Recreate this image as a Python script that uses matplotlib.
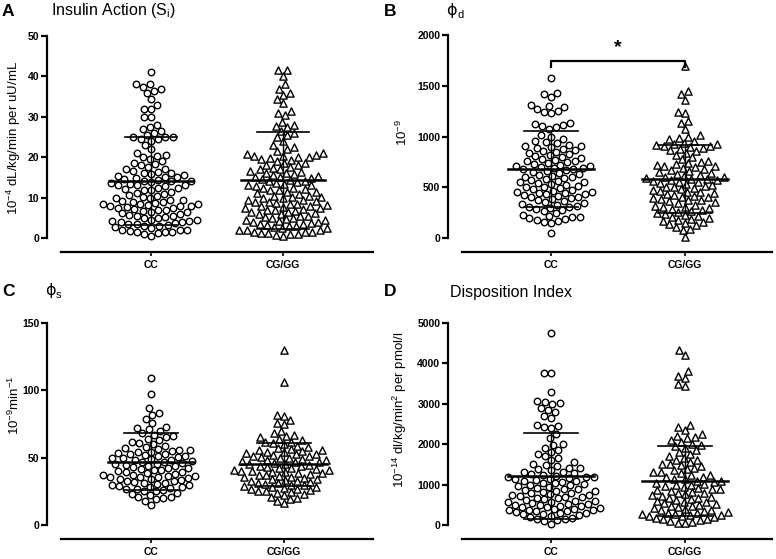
import numpy as np
import matplotlib
matplotlib.use("Agg")
import matplotlib.pyplot as plt

plt.rcParams['font.family'] = ['Liberation Sans', 'DejaVu Sans']
plt.rcParams['mathtext.fontset'] = 'custom'
plt.rcParams['mathtext.rm'] = 'Liberation Sans'
plt.rcParams['mathtext.it'] = 'Liberation Sans:italic'
plt.rcParams['mathtext.bf'] = 'Liberation Sans:bold'

# ── data ──────────────────────────────────────────────────────
groups = ["CC", "CG/GG"]

si_cc = [41, 38.2, 38, 37.5, 37, 36.5, 36, 34.5, 33, 32, 32, 30, 30, 28, 27.5, 27, 26.5, 26,
         25.5, 25, 25, 25, 24.5, 24.5, 24, 23, 22, 21, 20.5, 20, 20.3, 19.5, 19, 18.5, 18,
         18.2, 17.5, 17, 17.2, 16.5, 16.4, 16, 16.1, 15.8, 15.5, 15.4, 15, 15.1, 14.8, 14.5,
         14.4, 14, 14.1, 13.9, 14, 13.5, 13.4, 13, 13.1, 12.9, 13, 12.5, 12.4, 12, 12.1, 11.9,
         11.5, 11, 11.1, 10.5, 10.6, 10, 10.1, 9.9, 9.5, 9.4, 9, 9.1, 8.9, 8.5, 8.4, 8.6, 8,
         8.1, 7.9, 8, 8.3, 7.5, 7.4, 7.7, 7, 7.1, 6.9, 6.5, 6.4, 6.7, 6, 6.1, 5.5, 5.6, 5.4,
         5, 5.1, 4.9, 4.5, 4.4, 4, 4.1, 3.9, 4.2, 3.5, 3.6, 3.4, 3, 3.1, 2.9, 2.5, 2.6, 2,
         2.1, 1.9, 1.5, 1.6, 1.4, 1.7, 1.2, 0.9, 0.4]
si_cg = [41.7, 41.5, 40.2, 38, 37, 36, 35.5, 34.5, 33.5, 31.5, 31, 30.5, 28.8, 28, 27.8,
         27.5, 26.5, 26, 25.5, 25, 24, 23, 22.5, 22, 21.5, 21, 20.8, 20.5, 20.4, 20.2, 20,
         20.1, 19.8, 19.5, 19.4, 19, 18.5, 18.6, 18, 18.1, 17.5, 17.4, 17, 17.1, 16.5, 16.4,
         16, 16.1, 15.9, 15.5, 15.4, 15, 15.1, 14.9, 14.5, 14.4, 14, 14.1, 13.9, 13.5, 13.4,
         13, 13.1, 12.9, 12.5, 12.4, 12, 12.1, 11.9, 11.5, 11.4, 11, 11.1, 10.5, 10.4, 10,
         10.1, 9.9, 10.2, 9.5, 9.4, 9, 9.1, 8.9, 8.5, 8.4, 8.7, 8, 8.1, 7.9, 7.5, 7.4, 7.7, 7,
         7.1, 6.9, 6.5, 6.4, 6.7, 6, 6.1, 5.9, 5.5, 5.4, 5, 5.1, 4.9, 4.5, 4.4, 4.6, 4, 4.1,
         3.9, 3.5, 3.4, 3.6, 3, 3.1, 2.9, 2.5, 2.6, 2.4, 2, 2.1, 1.9, 1.5, 1.6, 1.4, 1.2, 1.3,
         1, 0.9, 0.8, 0.6]

phid_cc = [1580, 1430, 1420, 1390, 1310, 1300, 1290, 1270, 1250, 1240, 1230, 1130, 1120,
           1110, 1100, 1090, 1070, 1010, 1000, 980, 960, 950, 940, 920, 910, 900, 905, 890,
           880, 870, 860, 850, 840, 830, 820, 810, 800, 790, 780, 770, 760, 750, 755, 740,
           730, 720, 710, 700, 705, 690, 680, 685, 670, 675, 660, 650, 640, 630, 620, 610,
           600, 605, 590, 580, 570, 560, 550, 555, 540, 530, 520, 510, 500, 505, 490, 480,
           470, 460, 450, 455, 440, 445, 430, 435, 420, 410, 400, 405, 390, 380, 370, 360,
           350, 340, 330, 335, 320, 310, 300, 305, 290, 280, 270, 250, 230, 220, 210, 200,
           205, 190, 180, 170, 160, 150, 50]
phid_cg = [1690, 1450, 1420, 1360, 1240, 1235, 1150, 1130, 1070, 1010, 1000, 990, 980, 960,
           940, 930, 920, 925, 910, 900, 905, 890, 880, 870, 860, 840, 820, 800, 780, 760,
           750, 740, 730, 720, 710, 700, 705, 690, 680, 670, 660, 650, 640, 630, 620, 610,
           600, 605, 590, 580, 585, 570, 575, 560, 550, 555, 540, 530, 520, 510, 500, 505,
           490, 480, 470, 460, 450, 455, 440, 430, 420, 410, 400, 405, 390, 380, 370, 375,
           360, 350, 340, 330, 320, 310, 300, 305, 290, 280, 270, 260, 250, 240, 230, 220,
           210, 200, 190, 180, 170, 160, 150, 140, 130, 110, 90, 80, 10]

phis_cc = [109, 97, 87, 83, 82, 79, 76, 73, 72, 71, 70, 68, 67, 66, 65, 64, 63, 62, 61, 60,
           59, 58, 57, 56, 56.5, 55, 55.5, 54, 54.5, 53, 53.5, 52, 52.5, 51, 51.5, 50, 50.5,
           49, 49.5, 48, 48.5, 47, 47.5, 46, 46.5, 45, 45.5, 44, 44.5, 43, 43.5, 42, 42.5,
           41, 41.5, 40, 40.5, 39, 39.5, 38, 38.5, 37, 37.5, 36, 36.3, 36.6, 35, 35.3,
           35.6, 34, 34.5, 33, 33.5, 32, 32.5, 31, 31.5, 30, 30.5, 29, 29.5, 28, 28.5, 27,
           27.5, 26, 26.5, 25, 25.5, 24, 23, 22, 21, 20, 20.5, 19, 18, 15]
phis_cg = [130, 106, 82, 81, 78, 76, 75, 70, 68, 67, 66, 65, 64, 63, 62, 61, 61.5, 60, 59,
           58, 57, 56, 56.5, 55, 55.5, 54, 54.5, 53, 53.5, 52, 52.5, 51, 51.5, 50, 50.5,
           49, 49.5, 48, 48.5, 47, 47.5, 46, 46.5, 45, 45.5, 44, 44.5, 43, 43.5, 42, 42.5,
           41, 41.5, 40, 40.3, 40.6, 39, 39.5, 38, 38.3, 38.6, 37, 37.5, 36, 36.5,
           35, 35.5, 34, 34.5, 33, 33.5, 32, 32.5, 31, 31.5, 30, 30.5, 29, 29.5,
           28, 28.5, 27, 27.5, 26, 26.5, 25, 25.5, 24, 24.5, 23, 22, 21, 20, 19, 18, 16]

di_cc = [4750, 3770, 3760, 3300, 3060, 3050, 3020, 3000, 2900, 2850, 2800, 2700, 2650, 2480,
         2450, 2430, 2400, 2260, 2150, 2000, 1980, 1900, 1850, 1800, 1750, 1700, 1650, 1600,
         1550, 1500, 1480, 1450, 1420, 1400, 1380, 1350, 1320, 1300, 1280, 1260, 1240, 1220,
         1200, 1190, 1180, 1160, 1150, 1130, 1120, 1100, 1080, 1060, 1050, 1030, 1010, 1000,
         980, 960, 940, 920, 900, 880, 870, 850, 830, 820, 800, 780, 760, 750, 740, 720, 700,
         690, 680, 660, 640, 620, 600, 590, 580, 560, 540, 530, 520, 500, 505, 480, 460, 450,
         440, 420, 400, 390, 380, 370, 360, 350, 340, 320, 300, 290, 280, 260, 240,
         220, 200, 180, 160, 140, 120, 100, 20]
di_cg = [4320, 4200, 3820, 3700, 3650, 3500, 3450, 2480, 2420, 2350, 2250, 2200, 2180, 2150,
         2100, 2050, 2000, 1980, 1950, 1900, 1850, 1800, 1750, 1700, 1650, 1620, 1600, 1550,
         1520, 1500, 1480, 1450, 1400, 1380, 1350, 1320, 1300, 1280, 1250, 1230, 1200, 1180,
         1150, 1130, 1100, 1080, 1060, 1040, 1020, 1000, 980, 960, 940, 920, 900, 880, 860,
         840, 820, 800, 780, 760, 740, 720, 700, 680, 660, 640, 620, 600, 580, 560, 540, 520,
         500, 480, 460, 440, 420, 400, 380, 360, 340, 320, 300, 290, 280, 260, 250, 240, 230,
         220, 200, 180, 160, 140, 120, 100, 80, 60, 50]

# mean and SD per panel, [CC, CG/GG]
si_mean, si_sd = [14.0, 14.3], [10.9, 12.0]
phid_mean, phid_sd = [680, 581], [378, 334]
phis_mean, phis_sd = [47.0, 45.2], [21.2, 16.0]
di_mean, di_sd = [1220, 1097], [1065, 866]

W, H = 776, 559
fig = plt.figure(figsize=(W / 100, H / 100), dpi=100)


def make_ax(left, right, top, bottom, y0, ytop, ymax, xcc, xcg, xline, yticks):
    ax = fig.add_axes([left / W, 1 - bottom / H, (right - left) / W, (bottom - top) / H])
    ppu = (y0 - ytop) / ymax
    ax.set_ylim(-(bottom - y0) / ppu, ymax + (ytop - top) / ppu)
    ppx = xcg - xcc
    ax.set_xlim((left - xcc) / ppx, (right - xcc) / ppx)
    for s in ("top", "right"):
        ax.spines[s].set_visible(False)
    ax.spines["left"].set_linewidth(1.6)
    ax.spines["bottom"].set_linewidth(1.6)
    ax.spines["left"].set_bounds(0, ymax)
    ax.spines["bottom"].set_bounds((xline - xcc) / ppx, (right - xcc) / ppx)
    ax.set_yticks(yticks)
    ax.set_yticklabels([str(t) for t in yticks], fontweight="bold", fontsize=7.5)
    ax.set_xticks([0, 1])
    ax.set_xticklabels(groups, fontweight="bold", fontsize=7.5)
    ax.tick_params(axis="y", length=4, width=1.6, pad=1.5)
    ax.tick_params(axis="x", length=3, width=1.2, pad=3)
    return ax


def swarm(ax, x0, vals, d=7.4):
    # beeswarm in pixel space; d is the spacing used for collisions
    vals = np.asarray(vals, dtype=float)
    pts = ax.transData.transform(np.column_stack([np.full(len(vals), x0), vals]))
    xc, ys = pts[0, 0], pts[:, 1]
    xs = np.zeros(len(vals))
    placed = []
    for i in np.argsort(ys):
        y = ys[i]
        near = [(px, py) for px, py in placed if abs(py - y) < d]
        cands = [0.0]
        for px, py in near:
            off = np.sqrt(d * d - (py - y) ** 2)
            cands += [px + off, px - off]
        cands.sort(key=lambda c: (round(abs(c), 3), c))
        for c in cands:
            if all((c - px) ** 2 + (y - py) ** 2 >= d * d - 1e-6 for px, py in near):
                xs[i] = c
                break
        placed.append((xs[i], y))
    disp = np.column_stack([xc + xs, ys])
    return ax.transData.inverted().transform(disp)[:, 0]


def draw_group(ax, x0, vals, marker, mean, sd):
    xs = swarm(ax, x0, vals)
    ax.scatter(xs, vals, s=22 if marker == "o" else 27, marker=marker, facecolor="white",
               edgecolor="black", linewidth=1.0, zorder=3, clip_on=False)
    ax.plot([x0 - 0.32, x0 + 0.32], [mean, mean], color="black", lw=1.8, zorder=4)
    ax.plot([x0 - 0.2, x0 + 0.2], [mean + sd, mean + sd], color="black", lw=1.2, zorder=4)
    ax.plot([x0 - 0.2, x0 + 0.2], [mean - sd, mean - sd], color="black", lw=1.2, zorder=4)
    ax.plot([x0, x0], [mean - sd, mean + sd], color="black", lw=1.0, zorder=4)


panels = [
    (make_ax(47, 373, 36, 252, 238, 36, 50, 151, 283, 61, [0, 10, 20, 30, 40, 50]),
     si_cc, si_cg, si_mean, si_sd),
    (make_ax(448, 772, 35, 252, 238, 35, 2000, 551, 685, 462, [0, 500, 1000, 1500, 2000]),
     phid_cc, phid_cg, phid_mean, phid_sd),
    (make_ax(47, 373, 323, 539, 525, 323, 150, 151, 284, 61, [0, 50, 100, 150]),
     phis_cc, phis_cg, phis_mean, phis_sd),
    (make_ax(448, 772, 323, 539, 525, 323, 5000, 551, 685, 462,
             [0, 1000, 2000, 3000, 4000, 5000]),
     di_cc, di_cg, di_mean, di_sd),
]

for ax, cc, cg, mean, sd in panels:
    draw_group(ax, 0, cc, "o", mean[0], sd[0])
    draw_group(ax, 1, cg, "^", mean[1], sd[1])

# significance bracket in panel B
axb = panels[1][0]
axb.plot([0, 0, 1, 1], [1685, 1745, 1745, 1685], color="black", lw=1.6, zorder=5)
axb.text(0.5, 1790, "*", ha="center", va="bottom", fontsize=14, fontweight="bold")


def ftext(x, y, s, **kw):
    fig.text(x / W, 1 - y / H, s, **kw)


# panel letters and titles
for x, y, s in [(2, 12, "A"), (384, 12, "B"), (2, 292, "C"), (384, 292, "D")]:
    ftext(x, y, s, fontsize=12.5, fontweight="bold", va="center")
ftext(51, 11, "Insulin Action (S$_\\mathrm{i}$)", fontsize=11.5, va="center")
ftext(450, 292, "Disposition Index", fontsize=11.5, va="center")
ftext(446, 11, "\u03d5", fontsize=11.5, va="center", family=["DejaVu Sans"])
ftext(457, 15, "d", fontsize=8, va="center")
ftext(45, 291, "\u03d5", fontsize=11.5, va="center", family=["DejaVu Sans"])
ftext(56, 295, "s", fontsize=8, va="center")

# y-axis labels
ylab = dict(rotation=90, ha="center", va="center", fontsize=9.5)
ftext(14, 138, "10$^{-4}$ dL/kg/min per uU/mL", **ylab)
ftext(402, 133, "10$^{-9}$", **ylab)
ftext(14, 405, "10$^{-9}$min$^{-1}$", **ylab)
ftext(400, 410, "10$^{-14}$ dl/kg/min$^2$ per pmol/l", **ylab)

fig.savefig("out.png", dpi=100)
